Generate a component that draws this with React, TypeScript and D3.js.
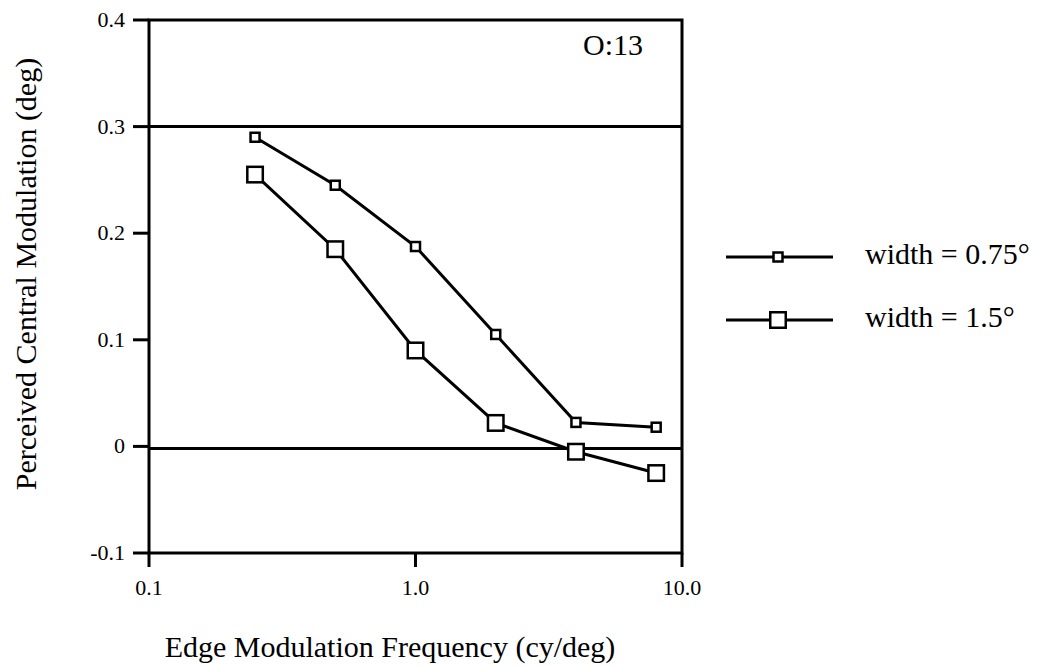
import React, { useEffect, useRef } from 'react';
import * as d3 from 'd3';

const freqs = [0.25, 0.5, 1, 2, 4, 8];
const narrow = [0.29, 0.245, 0.1875, 0.105, 0.0225, 0.018];
const wide = [0.255, 0.185, 0.09, 0.022, -0.005, -0.025];
const yTicks = [0.4, 0.3, 0.2, 0.1, 0, -0.1];
const yTickLabels = ['0.4', '0.3', '0.2', '0.1', '0', '-0.1'];
const xTicks = [0.1, 1, 10];
const xTickLabels = ['0.1', '1.0', '10.0'];
const refLines = [0.3, -0.002];
const seriesNames = ['width = 0.75°', 'width = 1.5°'];

const App = () => {
  const svgRef = useRef<SVGSVGElement>(null);

  useEffect(() => {
    const svg = d3.select(svgRef.current);
    svg.selectAll('*').remove();

    const font = '"Liberation Serif", "Times New Roman", serif';
    const left = 149, right = 682, top = 20, bottom = 553;

    const x = d3.scaleLog().domain([0.1, 10]).range([left, right]);
    const y = d3.scaleLinear().domain([-0.1, 0.4]).range([bottom, top]);

    // frame
    svg.append('rect')
      .attr('x', left).attr('y', top)
      .attr('width', right - left).attr('height', bottom - top)
      .attr('fill', 'none').attr('stroke', '#000').attr('stroke-width', 3);

    // y ticks + labels
    yTicks.forEach((t, i) => {
      svg.append('line')
        .attr('x1', left - 16).attr('x2', left)
        .attr('y1', y(t)).attr('y2', y(t))
        .attr('stroke', '#000').attr('stroke-width', 3);
      svg.append('text')
        .attr('x', left - 24).attr('y', y(t) + 7)
        .attr('text-anchor', 'end')
        .attr('font-family', font).attr('font-size', 22)
        .text(yTickLabels[i]);
    });

    // x ticks + labels
    xTicks.forEach((t, i) => {
      svg.append('line')
        .attr('x1', x(t)).attr('x2', x(t))
        .attr('y1', bottom).attr('y2', bottom + 14)
        .attr('stroke', '#000').attr('stroke-width', 3);
      svg.append('text')
        .attr('x', x(t)).attr('y', bottom + 42)
        .attr('text-anchor', 'middle')
        .attr('font-family', font).attr('font-size', 22)
        .text(xTickLabels[i]);
    });

    // reference lines
    refLines.forEach(v => {
      svg.append('line')
        .attr('x1', left).attr('x2', right)
        .attr('y1', y(v)).attr('y2', y(v))
        .attr('stroke', '#000').attr('stroke-width', 3);
    });

    const line = d3.line<number>()
      .x((d, i) => x(freqs[i]))
      .y(d => y(d));

    const series = [
      { values: narrow, size: 9 },
      { values: wide, size: 15.5 },
    ];

    series.forEach(s => {
      svg.append('path')
        .attr('d', line(s.values))
        .attr('fill', 'none').attr('stroke', '#000').attr('stroke-width', 3);
      svg.append('g')
        .selectAll('rect')
        .data(s.values)
        .enter()
        .append('rect')
        .attr('x', (d, i) => x(freqs[i]) - s.size / 2)
        .attr('y', d => y(d) - s.size / 2)
        .attr('width', s.size).attr('height', s.size)
        .attr('fill', '#fff').attr('stroke', '#000').attr('stroke-width', 2.5);
    });

    // legend
    series.forEach((s, i) => {
      const ly = 257 + i * 63;
      svg.append('line')
        .attr('x1', 726).attr('x2', 833)
        .attr('y1', ly).attr('y2', ly)
        .attr('stroke', '#000').attr('stroke-width', 3);
      svg.append('rect')
        .attr('x', 778 - s.size / 2).attr('y', ly - s.size / 2)
        .attr('width', s.size).attr('height', s.size)
        .attr('fill', '#fff').attr('stroke', '#000').attr('stroke-width', 2.5);
      svg.append('text')
        .attr('x', 865).attr('y', ly + 7)
        .attr('font-family', font).attr('font-size', 30)
        .text(seriesNames[i]);
    });

    // annotation
    svg.append('text')
      .attr('x', 583).attr('y', 55)
      .attr('font-family', font).attr('font-size', 30)
      .text('O:13');

    // axis titles
    svg.append('text')
      .attr('x', 390).attr('y', 657)
      .attr('text-anchor', 'middle')
      .attr('font-family', font).attr('font-size', 30)
      .text('Edge Modulation Frequency (cy/deg)');

    svg.append('text')
      .attr('transform', 'translate(36,274) rotate(-90)')
      .attr('text-anchor', 'middle')
      .attr('font-family', font).attr('font-size', 30)
      .text('Perceived Central Modulation (deg)');
  }, []);

  return (
    <svg
      ref={svgRef}
      width={1042}
      height={666}
      style={{ position: 'absolute', left: 0, top: 0, background: '#fff' }}
    />
  );
};

export default App;
